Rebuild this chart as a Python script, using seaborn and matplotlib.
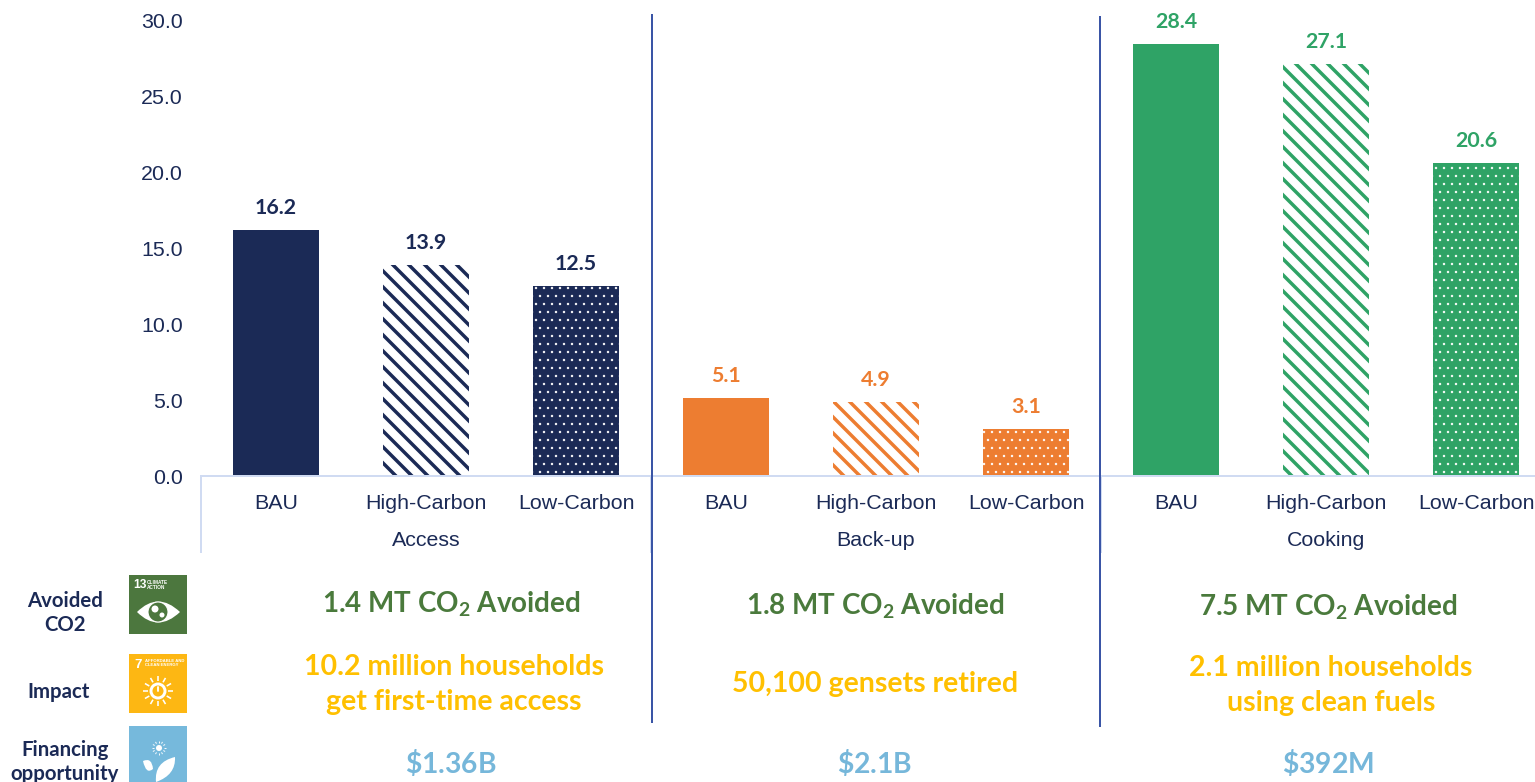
import matplotlib
matplotlib.use("Agg")
import matplotlib.pyplot as plt
from matplotlib.patches import Circle, PathPatch, Rectangle
from matplotlib.path import Path
import pandas as pd
import seaborn as sns

# Emissions by segment and scenario
groups = ["Access", "Back-up", "Cooking"]
scenarios = ["BAU", "High-Carbon", "Low-Carbon"]
access_values = [16.2, 13.9, 12.5]
backup_values = [5.1, 4.9, 3.1]
cooking_values = [28.4, 27.1, 20.6]
y_ticks = [0, 5, 10, 15, 20, 25, 30]

# Summary rows under the chart
avoided = ["1.4 MT CO$_{\\mathregular{2}}$ Avoided", "1.8 MT CO$_{\\mathregular{2}}$ Avoided",
           "7.5 MT CO$_{\\mathregular{2}}$ Avoided"]
impact = ["10.2 million households\nget first-time access", "50,100 gensets retired",
          "2.1 million households\nusing clean fuels"]
financing = ["$\\mathregular{\\$1.36B}$", "$\\mathregular{\\$2.1B}$", "$\\mathregular{\\$392M}$"]

NAVY, ORANGE, GREEN = "#1b2a56", "#ed7d31", "#2fa366"
group_colors = [NAVY, ORANGE, GREEN]
SDG_GREEN, SDG_YELLOW, SDG_BLUE = "#4c773e", "#fdb713", "#76b9dc"
TEXT_GREEN, TEXT_YELLOW, TEXT_BLUE = "#4a7a3c", "#ffc000", "#76b7da"
RULE = "#3a55a6"
AXIS_LIGHT = "#d0dbf2"

W, H, DPI = 1535, 782, 96
sns.set_theme(style="white")
plt.rcParams.update({
    "font.family": ["Liberation Sans", "DejaVu Sans"],
    "mathtext.fontset": "custom",
    "mathtext.rm": "Lato:bold",
    "mathtext.default": "regular",
})

rows = []
for group, values in zip(groups, [access_values, backup_values, cooking_values]):
    for scenario, value in zip(scenarios, values):
        rows.append({"slot": f"{group} {scenario}", "group": group, "scenario": scenario, "value": value})
df = pd.DataFrame(rows)

fig = plt.figure(figsize=(W / DPI, H / DPI), dpi=DPI, facecolor="white")
ax = fig.add_axes([201 / W, 1 - 476 / H, (W - 201) / W, 456 / H])

palette = {r.slot: group_colors[groups.index(r.group)] for r in df.itertuples()}
sns.barplot(data=df, x="slot", y="value", hue="slot", palette=palette, legend=False,
            width=0.575, saturation=1, linewidth=0, ax=ax)

for container, row in zip(ax.containers, df.itertuples()):
    color = palette[row.slot]
    for bar in container:
        if row.scenario == "High-Carbon":
            bar.set(facecolor="white", edgecolor=color, hatch="\\\\", linewidth=0)
            bar.set_hatch_linewidth(2.6)
        elif row.scenario == "Low-Carbon":
            bar.set(facecolor=color, edgecolor="white", hatch="..", linewidth=0)
            bar.set_hatch_linewidth(0.6)
    ax.bar_label(container, fmt="%.1f", padding=9, color=color, clip_on=False,
                 family="Lato", fontweight="bold", fontsize=16)

ax.set_xlim(-0.5, (W - 201) / 150 - 0.5)
ax.set_ylim(0, 30)
ax.set_yticks(y_ticks, [f"{t:.1f}" for t in y_ticks])
ax.set_xticks(range(len(df)), df["scenario"])
ax.set_xlabel("")
ax.set_ylabel("")
ax.tick_params(axis="y", labelsize=16, labelcolor=NAVY, length=0, pad=13.5)
ax.tick_params(axis="x", labelsize=16, labelcolor=NAVY, length=0, pad=13.7)
for side_name in ["top", "right", "left"]:
    ax.spines[side_name].set_visible(False)
ax.spines["bottom"].set(color=AXIS_LIGHT, linewidth=1.5)

# Overlay in pixel coordinates for rules, group names, summaries and icons
ov = fig.add_axes([0, 0, 1, 1], facecolor="none")
ov.set_xlim(0, W)
ov.set_ylim(H, 0)
ov.axis("off")

for x in [201, 651, 1101]:
    ov.plot([x, x], [476, 553], color=AXIS_LIGHT, lw=1.5, solid_capstyle="butt")
ov.plot([652, 652], [14, 723], color=RULE, lw=1.5, solid_capstyle="butt")
ov.plot([1100, 1100], [16, 727], color=RULE, lw=1.5, solid_capstyle="butt")

for x, group in zip([426, 876, 1326], groups):
    ov.text(x, 541, group, ha="center", va="center", fontsize=16, color=NAVY)

bold = dict(family="Lato", fontweight="bold", ha="center", va="center")
for x, y, label in zip([451, 875, 1328], [604, 606, 607], avoided):
    ov.text(x, y, label, color=TEXT_GREEN, fontsize=20.8, **bold)
for x, y, label in zip([454, 875, 1331], [684.5, 684, 685.5], impact):
    ov.text(x, y, label, color=TEXT_YELLOW, fontsize=21.4, linespacing=1.4, **bold)
for x, label in zip([451, 875, 1328], financing):
    ov.text(x, 762, label, color=TEXT_BLUE, fontsize=21.2, **bold)

side = dict(family="Lato", fontweight="bold", color=NAVY, fontsize=15.3, ha="center", va="center", linespacing=1.3)
ov.text(65, 613, "Avoided\nCO2", **side)
ov.text(59, 692.5, "Impact", **side)
ov.text(65, 762, "Financing\nopportunity", **side)

# SDG tiles
for top, color in [(575, SDG_GREEN), (654, SDG_YELLOW), (726, SDG_BLUE)]:
    ov.add_patch(Rectangle((129, top), 58, 59, facecolor=color, edgecolor="none"))

# SDG 13: number, caption and eye
ov.text(133, 585, "13", color="white", fontsize=9, fontweight="bold", ha="left", va="center")
ov.text(147, 585, "CLIMATE\nACTION", color="white", fontsize=3.6, fontweight="bold", ha="left", va="center")
eye = Path([(137, 612), (158, 591), (180, 612), (158, 633), (137, 612)],
           [Path.MOVETO, Path.CURVE3, Path.CURVE3, Path.CURVE3, Path.CURVE3])
ov.add_patch(PathPatch(eye, facecolor="white", edgecolor="none"))
ov.add_patch(Circle((158, 612), 10, facecolor=SDG_GREEN, edgecolor="white", lw=0.8))
ov.add_patch(Circle((155, 609), 3.5, facecolor="white", edgecolor="none"))
ov.add_patch(Circle((162, 615), 2.5, facecolor="white", edgecolor="none"))

# SDG 7: number, caption and sun
ov.text(134, 665, "7", color="white", fontsize=10, fontweight="bold", ha="left", va="center")
ov.text(145, 663, "AFFORDABLE AND\nCLEAN ENERGY", color="white", fontsize=3.2, fontweight="bold", ha="left", va="center")
sun_x, sun_y = 158, 691
ov.add_patch(Circle((sun_x, sun_y), 7, facecolor="none", edgecolor="white", lw=2.2))
ov.plot([sun_x, sun_x], [sun_y - 4, sun_y], color="white", lw=1.4)
ray_dirs = [(0, -1), (0.5, -0.87), (0.87, -0.5), (1, 0), (0.87, 0.5), (0.5, 0.87),
            (0, 1), (-0.5, 0.87), (-0.87, 0.5), (-1, 0), (-0.87, -0.5), (-0.5, -0.87)]
for dx, dy in ray_dirs:
    ov.plot([sun_x + 10 * dx, sun_x + 15 * dx], [sun_y + 10 * dy, sun_y + 15 * dy],
            color="white", lw=1.2, solid_capstyle="butt")

# Financing tile: small sun over leaves
ov.add_patch(Circle((159, 748), 3, facecolor="white", edgecolor="none"))
for dx, dy in ray_dirs:
    ov.plot([159 + 5 * dx, 159 + 7 * dx], [748 + 5 * dy, 748 + 7 * dy], color="white", lw=0.7,
            solid_capstyle="butt")
leaf_big = Path([(156, 782), (154, 762), (175, 757), (176, 775), (156, 782)],
                [Path.MOVETO, Path.CURVE3, Path.CURVE3, Path.CURVE3, Path.CURVE3])
leaf_small = Path([(143, 761), (152, 757), (153, 769), (146, 775), (143, 761)],
                  [Path.MOVETO, Path.CURVE3, Path.CURVE3, Path.CURVE3, Path.CURVE3])
ov.add_patch(PathPatch(leaf_big, facecolor="white", edgecolor="none"))
ov.add_patch(PathPatch(leaf_small, facecolor="white", edgecolor="none"))

fig.savefig("out.png", dpi=DPI)
